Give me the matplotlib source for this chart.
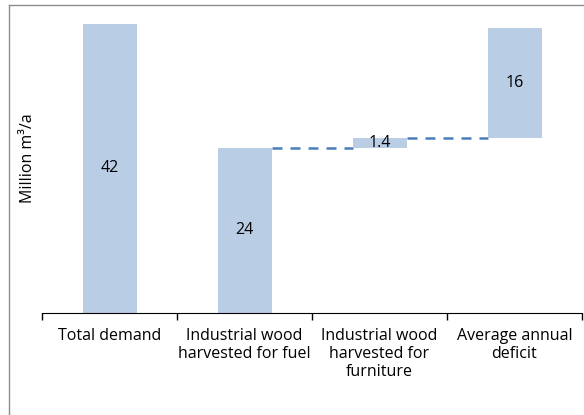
import numpy as np
import matplotlib
matplotlib.use("Agg")
import matplotlib.pyplot as plt
from matplotlib.lines import Line2D

plt.rcParams['font.family'] = ['Open Sans', 'DejaVu Sans']

categories = ["Total demand", "Industrial wood\nharvested for fuel",
              "Industrial wood\nharvested for\nfurniture", "Average annual\ndeficit"]
values = [42, 24, 1.4, 16]
labels = ["42", "24", "1.4", "16"]

# waterfall bases: first two start at zero, the rest stack on the previous
bottoms = [0, 0, values[1], values[1] + values[2]]

bar_color = "#b9cde5"
line_color = "#4a7ebb"

fig = plt.figure(figsize=(5.84, 4.15), dpi=100)
ax = fig.add_axes([42 / 584, 102 / 415, 540 / 584, 303 / 415])

x = np.arange(len(categories))
ax.bar(x, values, bottom=bottoms, width=0.4, color=bar_color, zorder=2)

for i, (v, b, t) in enumerate(zip(values, bottoms, labels)):
    ax.text(x[i], b + v / 2, t, ha="center", va="center", fontsize=11.5, color="#000000", zorder=3)

# connectors between the floating bars
for i in (1, 2):
    top = bottoms[i] + values[i]
    ax.plot([x[i] + 0.2, x[i + 1] - 0.2], [top, top], color=line_color,
            linestyle=(0, (4, 3.2)), linewidth=1.8, zorder=1)

ax.set_xlim(-0.5, 3.5)
ax.set_ylim(0, 44)
ax.set_yticks([])
ax.set_xticks(x)
ax.set_xticklabels(categories, fontsize=11.5, linespacing=1.15)
ax.set_xticks(np.arange(-0.5, 4, 1), minor=True)
ax.tick_params(axis="x", which="major", length=0, pad=11)
ax.tick_params(axis="x", which="minor", length=5, width=1, color="#000000", direction="out")
for side in ("top", "right", "left"):
    ax.spines[side].set_visible(False)
ax.spines["bottom"].set_color("#000000")
ax.set_ylabel("Million m³/a", fontsize=11.5)
ax.yaxis.set_label_coords(-0.011, 0.51)

# outer frame of the chart area (only top and left edges fall inside the image)
fx = 8.5 / 584
fy = 1 - 5.5 / 415
fig.add_artist(Line2D([fx, 1], [fy, fy], transform=fig.transFigure, color="#8c8c8c", linewidth=1))
fig.add_artist(Line2D([fx, fx], [0, fy], transform=fig.transFigure, color="#8c8c8c", linewidth=1))

fig.savefig("out.png", dpi=100)
